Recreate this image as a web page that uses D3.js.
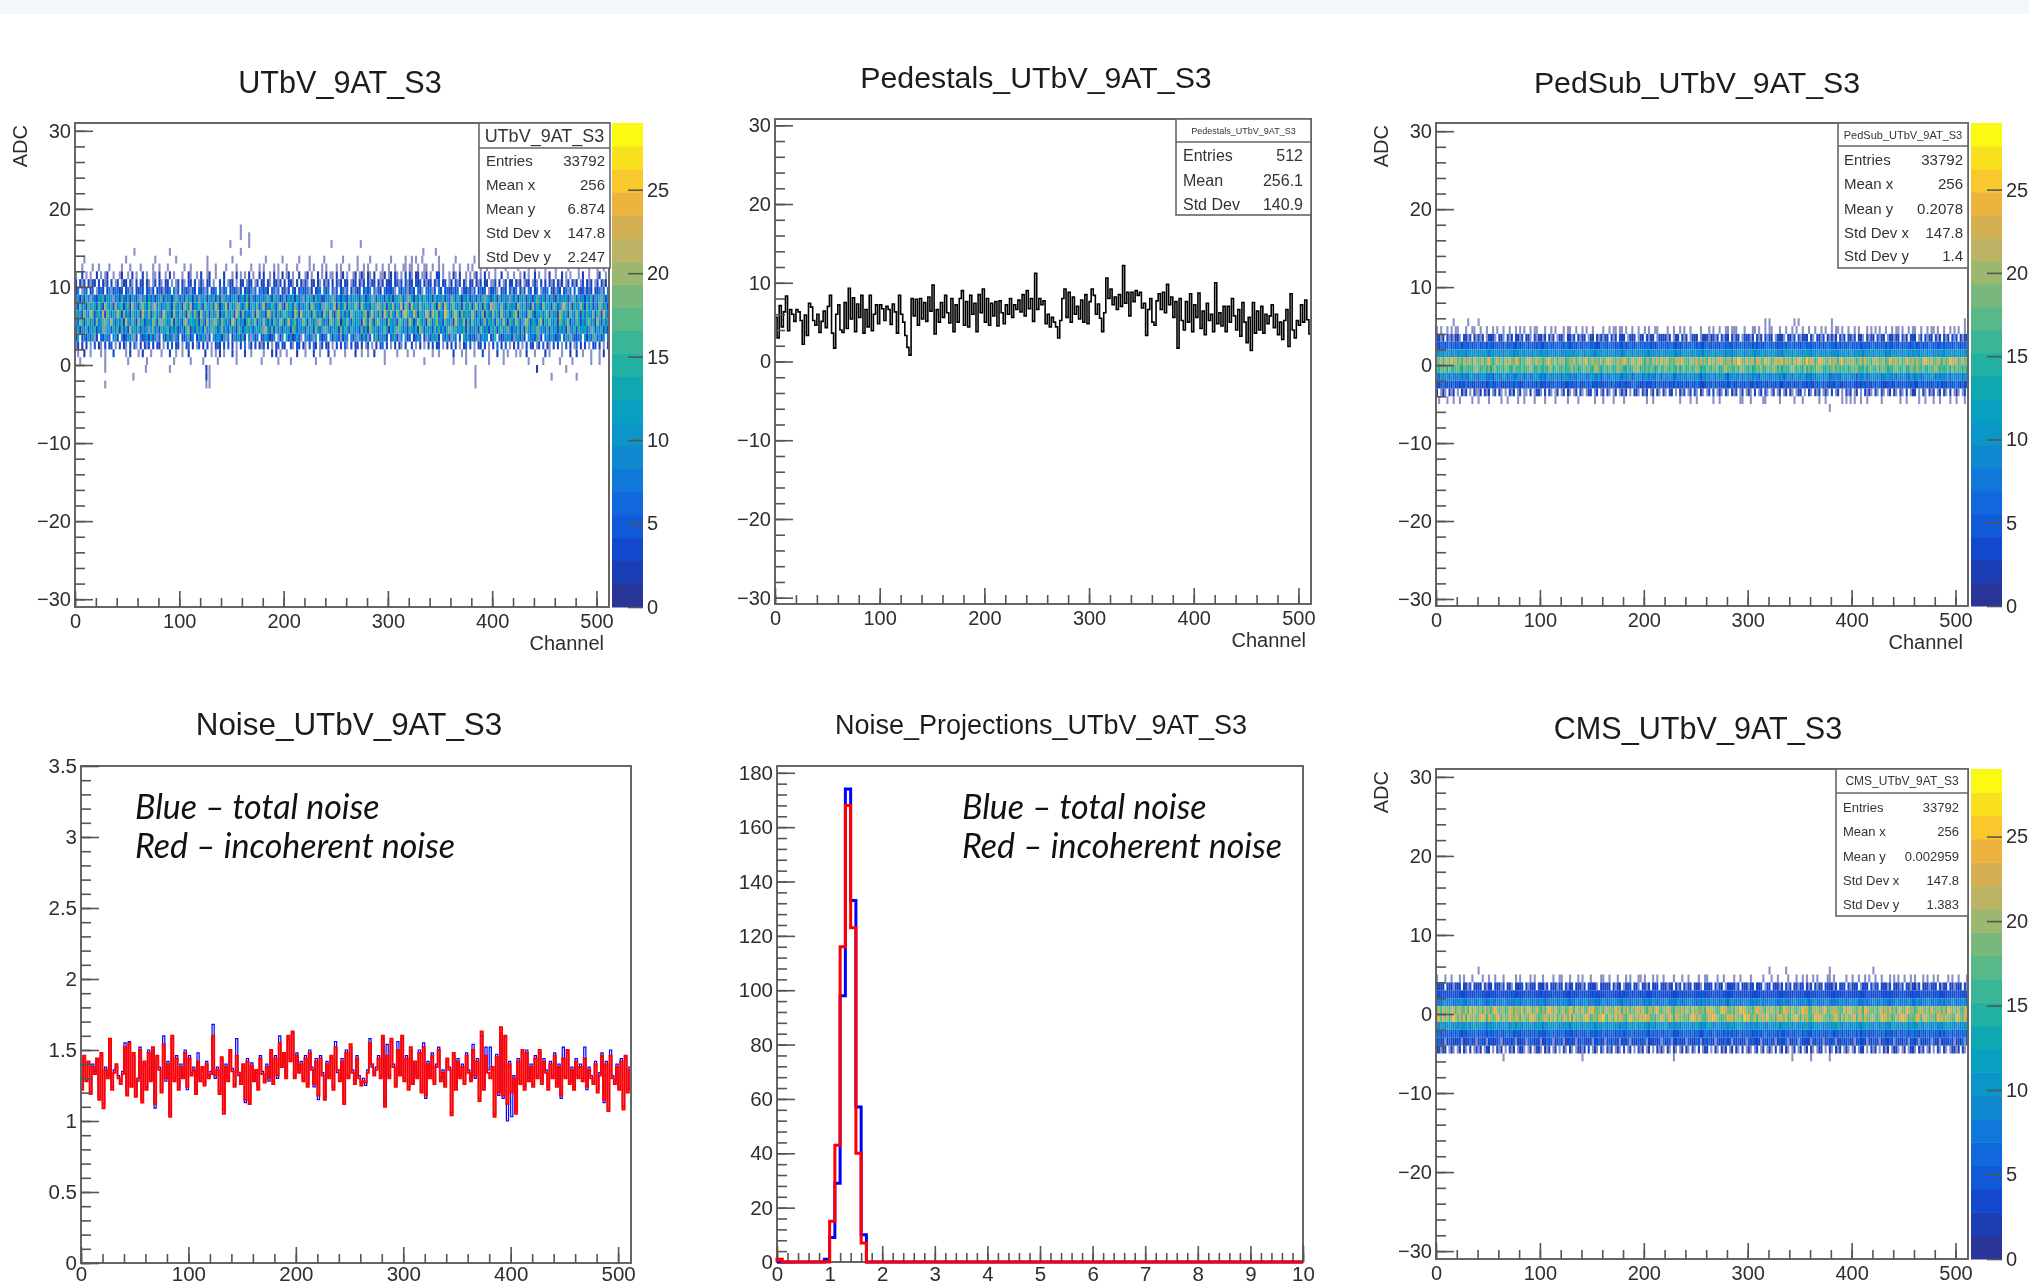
<!DOCTYPE html>
<html>
<head>
<meta charset="utf-8">
<script src="https://cdn.jsdelivr.net/npm/d3@7"></script>
<style>
html, body { margin: 0; padding: 0; background: #fff; overflow: hidden; }
svg { display: block; filter: blur(0.7px); font-family: "Liberation Sans", Arial, sans-serif; }
</style>
</head>
<body>
<script>
// values, one entry per 2 channels
var pedestals = [
5.6,3.0,7.1,4.4,6.3,8.3,3.9,6.6,6.0,5.1,6.6,6.3,5.2,2.2,5.9,3.3,
7.4,6.9,5.2,4.6,6.0,3.7,5.1,6.4,4.3,7.0,8.4,3.6,1.7,6.0,7.2,4.0,
3.7,7.5,4.2,9.3,5.4,8.1,3.8,7.3,5.6,8.4,3.6,6.6,4.4,8.4,3.9,6.0,
7.2,4.8,7.2,6.7,5.2,7.0,6.6,4.7,7.3,6.3,3.6,8.4,6.0,5.0,3.3,1.8,
0.8,8.0,5.8,7.9,4.6,8.0,5.4,7.5,5.1,8.2,6.4,9.7,3.5,6.6,5.0,7.5,
5.6,8.4,6.2,4.9,8.0,3.8,7.2,5.0,8.0,9.0,4.6,7.6,4.4,8.4,6.0,7.4,
3.8,8.5,6.2,9.2,5.0,8.0,4.6,7.4,5.8,7.6,4.5,7.7,6.2,4.8,7.2,6.0,
8.0,5.6,7.2,6.6,7.8,6.3,8.5,5.8,9.0,6.7,8.0,5.1,11.2,6.6,8.0,7.2,
7.7,4.8,6.0,4.4,5.6,5.0,4.4,3.0,5.2,8.0,9.2,5.6,8.8,5.0,8.2,6.0,
7.0,5.4,7.8,5.0,8.5,4.8,7.6,9.2,8.4,6.0,7.3,5.5,3.8,6.2,10.6,8.0,
9.2,7.2,8.2,6.6,8.5,7.0,12.2,7.4,8.8,5.8,8.8,7.6,9.0,8.4,8.8,6.8,
7.4,3.3,6.6,8.0,5.0,4.6,7.7,8.6,6.6,8.8,6.2,9.8,7.2,8.2,5.6,7.6,
1.7,8.0,5.2,4.0,7.6,5.0,8.6,3.8,7.2,5.6,8.7,4.2,6.4,3.4,7.4,5.2,
6.0,3.8,10.0,4.8,6.2,4.5,7.0,3.8,7.0,5.0,8.0,5.8,4.0,6.6,3.2,7.5,
5.0,2.4,5.6,1.4,7.5,3.6,6.4,4.0,7.0,3.6,6.0,4.8,5.8,7.2,4.3,6.0,
3.4,5.0,2.8,5.2,6.6,1.9,8.6,4.0,3.0,5.2,4.6,7.2,5.0,7.8,5.3,3.5];

var noiseRed = [
1.22,1.46,1.28,1.42,1.19,1.38,1.33,1.44,1.15,1.48,1.09,1.36,1.30,1.58,1.22,1.34,
1.40,1.30,1.26,1.33,1.52,1.18,1.55,1.24,1.48,1.17,1.30,1.50,1.13,1.42,1.22,1.48,
1.28,1.52,1.12,1.46,1.36,1.20,1.54,1.30,1.40,1.03,1.60,1.28,1.44,1.22,1.38,1.30,
1.48,1.24,1.44,1.32,1.36,1.19,1.42,1.28,1.38,1.25,1.40,1.30,1.33,1.60,1.32,1.36,
1.19,1.45,1.05,1.38,1.28,1.50,1.35,1.24,1.46,1.34,1.26,1.40,1.15,1.42,1.12,1.39,
1.28,1.36,1.22,1.44,1.33,1.27,1.38,1.30,1.50,1.26,1.44,1.32,1.55,1.38,1.48,1.30,
1.60,1.42,1.63,1.30,1.46,1.34,1.40,1.28,1.44,1.24,1.48,1.36,1.26,1.42,1.18,1.44,
1.32,1.15,1.40,1.30,1.46,1.22,1.52,1.36,1.28,1.42,1.12,1.48,1.30,1.54,1.34,1.26,
1.44,1.30,1.25,1.28,1.27,1.34,1.55,1.40,1.32,1.36,1.44,1.30,1.60,1.10,1.46,1.30,
1.58,1.38,1.24,1.50,1.32,1.60,1.28,1.44,1.22,1.52,1.26,1.42,1.30,1.48,1.20,1.52,
1.18,1.40,1.30,1.46,1.26,1.38,1.50,1.28,1.34,1.24,1.44,1.36,1.04,1.48,1.22,1.42,
1.30,1.38,1.26,1.46,1.34,1.28,1.50,1.32,1.42,1.14,1.63,1.22,1.46,1.34,1.30,1.38,
1.03,1.45,1.20,1.66,1.18,1.60,1.12,1.40,1.20,1.30,1.05,1.42,1.26,1.50,1.22,1.48,
1.28,1.38,1.24,1.44,1.30,1.50,1.26,1.42,1.34,1.22,1.40,1.30,1.46,1.24,1.38,1.18,
1.44,1.30,1.50,1.26,1.36,1.22,1.42,1.30,1.38,1.28,1.44,1.24,1.36,1.30,1.26,1.40,
1.20,1.32,1.46,1.15,1.40,1.07,1.46,1.30,1.26,1.38,1.22,1.42,1.08,1.46,1.20,1.36];

var noiseBlue = [
1.24,1.44,1.30,1.40,1.20,1.40,1.35,1.42,1.17,1.46,1.12,1.38,1.32,1.56,1.24,1.36,
1.38,1.32,1.28,1.35,1.55,1.20,1.56,1.26,1.46,1.19,1.28,1.52,1.15,1.40,1.24,1.50,
1.30,1.50,1.09,1.44,1.38,1.22,1.60,1.28,1.42,1.05,1.58,1.30,1.46,1.24,1.40,1.32,
1.50,1.22,1.46,1.34,1.38,1.21,1.48,1.30,1.36,1.27,1.42,1.32,1.35,1.68,1.30,1.38,
1.21,1.43,1.08,1.40,1.30,1.48,1.37,1.26,1.58,1.32,1.28,1.38,1.13,1.44,1.14,1.41,
1.30,1.34,1.24,1.46,1.35,1.29,1.40,1.28,1.48,1.28,1.46,1.30,1.60,1.40,1.46,1.32,
1.58,1.44,1.62,1.32,1.48,1.36,1.42,1.30,1.46,1.26,1.50,1.38,1.24,1.44,1.15,1.46,
1.34,1.17,1.42,1.32,1.44,1.24,1.56,1.34,1.30,1.44,1.14,1.50,1.32,1.52,1.36,1.28,
1.46,1.32,1.27,1.30,1.25,1.36,1.58,1.38,1.34,1.38,1.46,1.32,1.58,1.12,1.54,1.32,
1.56,1.40,1.26,1.56,1.34,1.58,1.30,1.46,1.24,1.50,1.28,1.40,1.32,1.50,1.22,1.55,
1.16,1.42,1.32,1.48,1.28,1.40,1.52,1.30,1.36,1.26,1.42,1.38,1.06,1.46,1.24,1.44,
1.32,1.40,1.28,1.48,1.36,1.30,1.54,1.30,1.44,1.16,1.60,1.24,1.52,1.36,1.52,1.36,
1.05,1.47,1.18,1.62,1.16,1.60,1.00,1.42,1.03,1.32,1.07,1.44,1.28,1.48,1.24,1.50,
1.30,1.40,1.26,1.46,1.32,1.48,1.28,1.44,1.36,1.24,1.42,1.32,1.48,1.26,1.40,1.16,
1.52,1.32,1.48,1.28,1.38,1.24,1.44,1.32,1.40,1.30,1.52,1.22,1.38,1.32,1.28,1.42,
1.22,1.34,1.48,1.13,1.42,1.09,1.50,1.32,1.28,1.40,1.24,1.44,1.10,1.44,1.22,1.38];

// noise projection, bins of 0.1 from 0, empty after the last entry
var projBlue = [0,0,0,0,0,0,0,0,0,1,9,29,98,174,133,57,10];
var projRed = [1,0,0,0,0,0,0,0,0,0,15,43,116,168,123,40,7];

// 2D histograms: one string per ADC level (base 36 count), columns of 2 channels
var rawLevels = [13,12,11,10,9,8,7,6,5,4,3,2,1,0];
var rawRows = [
"0000100000 0000000000 0000100000 0000000010 0000000010 0000000000 0001000000 0000010000 0000000000 0100000001 0000000100 0010000001 0000000010 0000010000 0100000000 0100000010 0101001000 0000100000 0010000000 0100001000 0000000000 0010000000 0000000010 0000100000 0000001000 010000",
"0001000010 0100001000 0010001000 0100000100 1000100000 0010010000 0001000100 0010000100 0000100010 1000010100 0100001000 0010100010 1000010100 0100010010 1000100100 1001000110 1100100110 0100101000 0100100010 1000100100 0100001000 0010000100 1000010000 1000001000 0100001000 100100",
"1002010100 2010120010 0120010201 0020100110 2001020100 0100210010 2001200100 0200010201 0102010020 2001020102 0120100200 1201002010 2011020120 1001201210 2102001120 1202101020 3102201120 1002301001 0210200101 0120102010 0100200100 1001020100 2010010200 1002010100 0102001000 120010",
"3041204132 0402130401 3014203102 0320410130 4102301014 0210320401 3102401003 0301420102 4013201402 3041032130 2043102021 3104202103 1402031204 2013402130 3142031204 2402514031 4205230412 3041502301 2031403102 4021302401 1302014023 0412013201 4103020412 0312014031 2014031201 403120",
"2701850360 1582047136 8250371604 2730581402 6215370815 0372815406 2815033706 1580362714 0382916058 3720581602 5130820375 4812036709 2706150381 6031724059 3807152063 5381072961 2930841075 7150930462 2837015294 1503826014 4710283061 3802150740 2801637052 1730481605 0825137204 281607",
"7c2a4e81b5 3d9f2a7c16 b3e85c2a94 d17f3c6a28 9e2b7a4d1c 5a3f8c2e71 b9d2a6c3f5 1e7a4b9d28 c5f2e83a6b 7d1c4f9a25 e3b8d2c6a1 5f9c3e7a24 b8d1e5a3c7 2f6c9a4ed3 8b1f5c7a3e 6d2a9ef4c1 gb3d8e6fa5 c2f7b9e3a6 1d5fa2c8e3 7b3d6f1ea4 9c2e5a8b1d 6f3c7e2a94 b1d8a3f5c6 2e7c9a4b1f 5d8a3c6e2b 7f1c4a",
"d4i7c2g9ea 5hb3kd8f2j 7cg4ae2lb9 3fjd6hc1k8 e5b9ga3ic7 d2jf6m4a9g b3hc8e5lf2 9dk4g7a1ib 6ej2cf8h3d l5a9gc3fk7 2ibe6jd4a8 cg3kf9b5e1 hd7al2g6cj 4fb9ie3kd7 a5gc1jf8h3 ebk6d9l4ig 3mcf7jb9ea 8hd2kg5ne6 cja7f3ib9g 4dk8e2hc6m 1gb7ja4fd9 c3ie8g5b2k 7fa4jd9c3h e6b1lf8g2d a9kc4h7e3b 5jf8d2ga6c 3ke9b7",
"f9c3jb7kg4 ae8m2hd6c9 kf3i7b4ga8 e2lc9j5dh7 b4mf8a3kc6 g9d2ie7ja4 lb6g3f8dk2 c7ha9e4mf3 j8b5cg2kd7 a4ni8f3e6c hd9b5kg2la 7fc4je8a3i d6mb2gk9f5 c3ie7da8hj 4bl9f6g2ne 8kc5jd3imf a7ng4eb9lh 2kfj6c8oia 5gme3h9db7 kf4c8j2ga6 i9d3lb7e5c gk2f8a4jh9 3dbe7ci5f8 a2kg9d4hc6 jb3e7fa8i5 dg2lc6",
"b6ie3ag8d4 j7c1hf9ka5 d8e3mb6gc2 i9f4ac7je3 h1gd8bk4f7 a3hj6dc9e2 gb4k8f1ic6 jd7a3mg5e8 b2fh9cj4d7 ka6e3gb8if 2cm7dh5a9j e4gb8f1kc6 a3ig7ej2d9 hb5f8ca4mg 6kd2eib7f3 jc9a4hg8d5 lf3bke7c2i g6dj9a4hb8 e2mf7ck3g5 ia8d4bj6e9 f3hc7ka2gd 8ie5b1jf4c a6gk3d9hb7 e2if8cj4a6 gd3b7fh9c2 ka5e8d",
"6d2a8f3b9e 4c7h1ab5d8 e2g6c3k9a7 f4b8d1ch6a 3e9bg5d7c2 8a4fj2b6e9 c3h7a1fd5b i8c4e6a2gd 5bf9d3ac7e 1kb6g4e8a3 d9c2hf5b7a 3f8e4ic6d1 ga5b9d2h7e c4fa8b3g6d 2ie7c5a9hb 4d8f1gc6a3 eb7d2if5c9 a3g8e6b4dh 1cf7a9e3g5 b8d2hc6a4f 9e3bg7d1c5 a8f4e2hb6d c1g9a5f3e7 b4d8c2ia6f 3e9bd7a1g5 c8f4b2",
"3a0582b6d1 2063a8507c 40925b7e13 0726a3c491 5082d6b1a3 0549e2703a 5c8140b6a9 3d1802a6c5 f2091b4803 6c7258013a 0d3926a510 7b4a1c0925 60e2a9513b 7083c1a4d6 1508e3b7a2 069c4170a3 5028b6031a 4c7e2095b3 1a6040d8c2 73a15c9b04 8e0625a7c3 1b94d20a67 5e1308b4c7 26a05d91c3 4870b2a6e1 5c3908",
"1302040105 0210302501 0403102061 0304150203 2010405032 0103602015 0204010362 0305020104 0701203021 4030102503 2005103402 1030620140 2301040305 1040230201 5010203604 0102041030 0301020104 0302501020 3040102605 0102304010 3060205010 2040103052 0130602104 0301050201 6020301045 020103",
"0100200100 0010100030 0000102000 1020001000 0100030010 0100200000 0020010102 0100030100 0300100000 1000202010 0100002000 1000300100 0200100001 0000200100 1002000010 0000100001 0010000000 0100100000 0200010100 0100030010 0020010100 0101002000 1000020100 0001000200 3001000100 010200",
"0010000000 0000100000 0000010000 0000100000 0000000100 0000010000 0100000010 0000000100 0000000001 0000000100 0001000000 0000010000 0010000000 0000000000 0000000010 0000000000 0000000100 0000000000 0100000100 0000000010 0000010000 0000000100 0000100000 0010000010 0000000100 010000"];
var rawOutliers = [[158,17,1],[158,16,1],[166,16,1],[166,15,1],[158,14,1],[148,15,1],[245,15,1],[273,15,1],[56,14,1],[90,14,1],[333,14,1],[345,14,1],[128,-3,1],[125,-3,1],[125,-2,2],[128,-2,1],[125,-1,2],[128,-1,1],[28,-3,1],[28,-1,1],[55,-2,1],[383,-3,1],[383,-2,1],[383,-1,1],[480,-2,1],[456,-2,1],[67,-1,1],[90,-1,1],[442,-1,2],[470,-1,1]];

var pedSubLevels = [4,3,2,1,0,-1,-2,-3,-4,-5];
var pedSubRows = [
"1010010101 1000100110 0100100101 0010010010 1010010110 0010010100 0101100100 1010010000 1001011011 0100100100 1010011000 0100100101 0010000100 0101001001 1011100010 0011010010 1100010010 0101001001 0010010100 1011010010 0101000101 0101001001 0110100101 1001001011 0100100101 010010",
"3212031412 2103214021 3120132410 2310412032 1402310213 4120312014 3102413021 2301420312 1420312043 2014230132 0314201324 3120142031 2014320142 4123120314 2031420134 3120412031 4201324103 2140312420 3102413021 3120412032 1402310214 2031420132 1420312043 2014031420 3120412031 402132",
"5465357464 5746546355 7456475365 6547456547 3657465546 5465754657 5476356475 4657465347 6547564653 7456546756 5674535746 5467546357 4657546546 7546354765 6547465746 5647465357 6475465746 5746546756 4657464576 5647465357 4657465546 7546564753 6547465546 7456354765 6457465546 754657",
"9ba8c9a7ba 8bca79ba9c 7a9cb8a9cb 7a8bc9a7b9 ca8b9a7cba 9cb8a9a7bc 8a9cba7b9c a8bc9a7ba9 cb8a9c7ba8 9bca8ba7c9 ba8c9ab7ca 8b9ca7b8ac 9ba8cb9a7c a9bc8ab9a7 cb8a9cba79 bca8b9ac7b a9cb8a7bc9 a8cb9a7cba 8b9ca7b8ca 9ba8cb9a7c b8a9c7ba9c 8ab9ca7b8c a9ba8cb7a9 cb8a9c7ba8 b9ca7ba9c8 ab9ca7",
"ijlgkmhojl hkgnjimglk hjmgkoifjl hkgmjlihon fjgkmlhjni kgjmoihlgk jmfhkingjl hkogjmikhl gjnmkihljk omgjlkhnmj fkigmjlhoj kngihmlkoj hgmkjnhlik gojmhkmnjh lkgnjpoihl jkmgnljhok mgjnklohnj kgmioljhpk nmgjolkihn jmkglohjki mjgklhnijg mklhjngiok jmhlginkjm hljgmokinh jlkgmhjolk ngjmik",
"hfigjdkefh igdjhfgeik hfgjeidhkf gheijfdkhg fieghkjdfi gehfjkdhig ejfghkeidf hjgieflkhd gjfihegkji fdhegjikfh eigjhdfkeg ihfjgekdhi fgjehkidgf jheigkdfjl higfjekihg fjdgihkfej hgkifjdhge ikjfhgdlfi ehgkjifdhe jkgifhejdg ihkfgejdhi gfkeijhdgf jihegkdfij gkhfiedjgh kifhegjdkf ighejfdkie hgkjif",
"86a79b5a87 9a7b86ca79 69ba7895ab 78ca69b87a 9b57a68ca9 796ba88b7a 5c9a7b86a9 7b68ca97a5 9b86ab7c96 a79b58a7c6 9a7b86c95a 79ba68a7b9 6c8a7b95a8 b7a96c8ba7 5a9b78c6a9 8b7a96ca7b 68a9b7c58a 96ba78ca79 6b8a9c7ba5 79a86cb7a9 8b5a79c68a b97a68bc97 a6b89a75cb 79a68b97ca 6b8a79c5a9 87b6a9",
"3456245364 5263745426 3546257345 6243546375 2456364527 3546254736 4523645374 2563745462 3546274536 5243675342 6453627453 4625374546 2365475324 6547263546 3574265436 5247354632 6454732654 3625473546 3264574632 5476325463 7425364532 6475324563 4725463546 3275463425 6374526345 743625",
"2012103120 1021301021 1203120130 2101031201 3011020132 1020310120 1302101203 1012301201 2031012013 1201032103 1201302102 1032010213 0120310210 1302012103 1021301201 2103012031 0120130120 2101230102 1031201210 3012010312 0120103121 0210310120 2103102012 3010210312 0120310201 210130",
"0100010010 0100000100 1000010000 0100100001 0010000100 0010000100 0001000010 0000001000 1000010000 1000000000 0100100000 0000000100 0010010000 0001001000 0000001100 0100000110 0000010000 0010001000 0000100100 0000010101 0100100100 0000100000 0001001000 0010010001 0010000100 100010"];
var pedSubOutliers = [[40,5,1],[316,5,1],[320,5,1],[344,5,1],[348,5,1],[380,5,1],[508,5,1],[16,5,1],[378,-6,1],[30,5,1]];

var cmsLevels = [4,3,2,1,0,-1,-2,-3,-4,-5];
var cmsRows = [
"1000100100 0101000100 0010010010 0010000010 1000010100 0100001001 1000100010 1000100001 1001000100 0101000110 1000101001 0000100010 0100001001 1000010010 0001001000 0100000100 0100100001 0001001010 0101000011 0100000100 1001001010 0100100010 1010010010 1000101001 0100001010 010001",
"4342034213 4302413042 4203142043 4130241032 3403132404 3214034213 4031430242 1403243102 4342031420 1343024103 4130243042 3142041302 1430423104 3240314201 3423140342 1340243014 3042314041 3024143021 4031420343 2140343041 3240134204 1340243140 3241304314 2140324134 2031420341 324031",
"3435433453 5344354345 4534345344 5343453534 3345345344 4534435343 5344353445 3453435344 4453534345 3445345343 5344535344 3453434534 4345343553 4345344534 3435534434 5344345353 4435344534 3453445343 5344535344 3453434534 4345434553 3445344534 4345353443 5345344353 4534435343 534435",
"7869a78968 79a8697a86 9a7867a869 78a96778a9 6897a86978 a967897a68 97a8678a96 79a6897867 a9687a9786 a7968978a7 6987a96878 a96787a968 79a87697a8 96a78967a8 69a78968a7 967a89a678 97a8679a86 78a9678a96 79a8678a97 6897a8967a 89a6789678 a967a89768 7a96878a96 7a8697a968 978a6987a9 687a96",
"jlgmikhlng kmjhlgoilk hmgnjkgmol hjkginmhlk jogkmlhinj gkhmoljnig kmhjolgnkh mjgnloihjk gmljihokng mjlgkhnmjo igklhmojgk jnlhgmkinh lkgojmhikg nlmkjghonl jhkgmionlk hjgmolkjgn imkhlgjonk hmigkjolnh gmkljhnogi kmljhgoimn kjhlmgonij hkglmjnioh kglnjhomik gjlmkhngoi jkmhlgonik jmhgln",
"lohnjmgkpl hmjognkilh jmolgnkhjn lgmihokjnl gmkjhonljg ikmlhnjogk hmljognikh jmolgikhnl pjgmkhoinl jgkomhljnk omlhjgkinm hjolgnmjkh iglonjmkhg jnlomkhgji olnhmjkgpl ohjngmkljo ihkgmnljog hkmojgnilh gjolnmkhig jlokgmhnij kogmlhnjik mhgjolnikg hmjlonkgih jolgmnkhij gomnjlkihg omjhnl",
"b9ca8bca9b 7cb9ac8bda 9cba7c9bac 8b9ca8bd9c a8cb9ac7ba c8b9ca9cb8 a9bc8ad9cb 7ca9bc8ba9 cb8acb9a7c b8ac9bd8ac 9b7ca8bc9a db8c9ab7ca 9bc8acb9a8 dca79bc8ab 9ca8bdc9b7 a8cb9acb87 ca9bd8acb9 a7cb8a9cdb 8ac9bc7a8b 9cbda8c9b7 ac9b8cad9b 7ca8bc9a8d cb9a7cb8ac 9bda8cb97a c8b9cad9b8 ac7b9c",
"5646556465 7546465657 4656475564 6546757465 4656546474 6546575645 6746546465 5467465564 7546564657 4565746465 6547564654 6576454657 5647465457 6546745646 5746457465 6546564675 4656475464 6546574665 4756465457 6465746546 5647465745 4656574654 6475465467 5646547465 5647465746 546574",
"2634126342 3512436241 2634135243 6124352614 2341635243 1426351246 3124534124 6342513462 4135264314 5261342543 6124352416 3451426342 1534264135 2643152436 2514362431 5264231452 6341254361 4253164243 1526341254 3614253462 4136243152 6431254263 1543264135 2613425316 4213543621 342615",
"2312301210 1203102013 1201320103 1201031201 2310120132 1021301201 0310210132 1203012103 1031201210 3012010312 0120103121 0210310120 2103102012 3010210312 0120310201 2101301201 2103012031 0120130120 2101230102 1031201210 1201320103 1201031201 2310120132 1021301201 0310210132 120310",
"0000100100 0010000100 1000010001 0100001010 1001000100 0100010001 0010001000 0100100010 0001010000 0001001000 1000011010 0100000101 0010010000 1000100001 0010000101 0100100000 1000011000 0100100000 0010001000 0100100001 0100010000 0010100000 1000010001 0100001000 0010100100 010010"];
var cmsOutliers = [[40,5,1],[320,5,1],[336,5,1],[378,5,1],[420,5,1],[378,-6,1],[64,-6,1],[140,-6,1],[228,-6,1],[342,-6,1],[360,-6,1],[336,-5,1]];

// tick labels and stat boxes
var statLabels2D = ["Entries", "Mean x", "Mean y", "Std Dev x", "Std Dev y"];
var statLabels1D = ["Entries", "Mean", "Std Dev"];
var rawStats = ["33792", "256", "6.874", "147.8", "2.247"];
var pedestalStats = ["512", "256.1", "140.9"];
var pedSubStats = ["33792", "256", "0.2078", "147.8", "1.4"];
var cmsStats = ["33792", "256", "0.002959", "147.8", "1.383"];
var noteLines = ["Blue \u2013 total noise", "Red \u2013 incoherent noise"];

// colour bands of the palette, bottom to top
var birdColors = ["#2a3598","#1c3eb4","#1448cc","#105ad8","#1068dc","#1078d8","#1088d0","#0a96c8","#08a0c0","#10a8b0","#22b0a2","#3ab696","#58b888","#78b87c","#9cb870","#bcb464","#d4b052","#ecb43e","#f8c82c","#f9e01e","#fcfa12"];

var channels = d3.range(0, 512, 2);
var adcMajor = d3.range(-30, 31, 10);
var adcMinor = d3.range(-30, 31, 2);
var chMajor = d3.range(0, 501, 100);
var chMinor = d3.range(0, 512, 20);
var zTicks = [0, 5, 10, 15, 20, 25];

var svg = d3.select("body").append("svg").attr("width", 2029).attr("height", 1285);
svg.append("rect").attr("width", 2029).attr("height", 1285).attr("fill", "#fff");
svg.append("rect").attr("width", 2029).attr("height", 14).attr("fill", "#f3f7fa");

var clipN = 0;

// frame, ticks and title for one pad
function makePad(o) {
  var g = svg.append("g");
  var x = d3.scaleLinear().domain(o.xDomain).range([o.left, o.right]);
  var y = d3.scaleLinear().domain(o.yDomain).range([o.bottom, o.top]);
  var id = "clip" + (clipN++);
  svg.append("clipPath").attr("id", id).append("rect")
    .attr("x", o.left).attr("y", o.top)
    .attr("width", o.right - o.left).attr("height", o.bottom - o.top);
  var plot = g.append("g").attr("clip-path", "url(#" + id + ")");

  g.append("text").attr("x", o.titleX).attr("y", o.titleY)
    .attr("text-anchor", "middle").attr("dominant-baseline", "central")
    .attr("font-size", o.titleSize).attr("fill", "#1c1c1c").text(o.title);

  return { g: g, plot: plot, x: x, y: y, o: o };
}

function finishPad(p) {
  var o = p.o, g = p.g;
  var xPad = o.xPad === undefined ? 7 : o.xPad;
  g.append("rect").attr("x", o.left).attr("y", o.top)
    .attr("width", o.right - o.left).attr("height", o.bottom - o.top)
    .attr("fill", "none").attr("stroke", "#666").attr("stroke-width", 2);

  var xa = g.append("g").attr("transform", "translate(0," + o.bottom + ")");
  xa.append("g").call(d3.axisBottom(p.x).tickValues(o.xMinor).tickSize(-9).tickFormat(""));
  xa.append("g").call(d3.axisBottom(p.x).tickValues(o.xMajor).tickSize(-16).tickPadding(xPad).tickFormat(d3.format("~g")));
  var ya = g.append("g").attr("transform", "translate(" + o.left + ",0)");
  ya.append("g").call(d3.axisLeft(p.y).tickValues(o.yMinor).tickSize(-10).tickFormat(""));
  ya.append("g").call(d3.axisLeft(p.y).tickValues(o.yMajor).tickSize(-18).tickPadding(4).tickFormat(d3.format("~g")));
  g.selectAll(".domain").remove();
  g.selectAll(".tick line").attr("stroke", "#555").attr("stroke-width", 1.6);
  g.selectAll(".tick text").attr("font-size", o.tickSize || 20).attr("fill", "#2e2e2e")
    .attr("font-family", "Liberation Sans");

  if (o.xLabel) {
    g.append("text").attr("x", o.right - 5).attr("y", o.bottom + 43)
      .attr("text-anchor", "end").attr("font-size", 20).attr("fill", "#2e2e2e").text(o.xLabel);
  }
  if (o.yLabel) {
    g.append("text").attr("transform", "translate(" + (o.left - 55) + "," + (o.top + 2) + ") rotate(-90)")
      .attr("text-anchor", "end").attr("dominant-baseline", "central")
      .attr("font-size", 20).attr("fill", "#2e2e2e").text(o.yLabel);
  }
}

function drawHeat(p, levels, rows, outliers) {
  var z = d3.scaleQuantize().domain([0, 29]).range(birdColors);
  var cells = [];
  rows.forEach(function (row, r) {
    row.replace(/ /g, "").split("").forEach(function (c, i) {
      var n = parseInt(c, 36);
      if (n > 0 && i < channels.length) cells.push({ ch: channels[i], level: levels[r], n: n });
    });
  });
  outliers.forEach(function (d) { cells.push({ ch: d[0], level: d[1], n: d[2] }); });

  p.plot.selectAll("rect.cell").data(cells).join("rect").attr("class", "cell")
    .attr("x", function (d) { return p.x(d.ch); })
    .attr("y", function (d) { return p.y(d.level + 1); })
    .attr("width", function (d) { return p.x(d.ch + 2) - p.x(d.ch); })
    .attr("height", function (d) { return p.y(d.level) - p.y(d.level + 1); })
    .attr("fill", function (d) { return z(d.n); })
    .attr("fill-opacity", function (d) { return d.n === 1 ? 0.55 : 1; });
}

function drawPalette(p, left, right) {
  var o = p.o;
  var z = d3.scaleLinear().domain([0, 29]).range([o.bottom, o.top]);
  var step = 29 / birdColors.length;
  var g = p.g.append("g");
  g.selectAll("rect").data(birdColors).join("rect")
    .attr("x", left).attr("width", right - left)
    .attr("y", function (d, i) { return z((i + 1) * step); })
    .attr("height", function (d, i) { return z(i * step) - z((i + 1) * step) + 0.5; })
    .attr("fill", function (d) { return d; });
  var a = g.append("g").attr("transform", "translate(" + right + ",0)")
    .call(d3.axisRight(z).tickValues(zTicks).tickSize(-15).tickPadding(4));
  a.select(".domain").remove();
  a.selectAll("line").attr("stroke", "#333").attr("stroke-width", 1.6);
  a.selectAll("text").attr("font-size", 20).attr("fill", "#2e2e2e").attr("font-family", "Liberation Sans");
}

function drawStats(p, b, title, labels, values) {
  var g = p.g.append("g");
  g.append("rect").attr("x", b.x0).attr("y", b.y0)
    .attr("width", b.x1 - b.x0).attr("height", b.y1 - b.y0)
    .attr("fill", "#fff").attr("stroke", "#666").attr("stroke-width", 1.6);
  g.append("line").attr("x1", b.x0).attr("x2", b.x1).attr("y1", b.div).attr("y2", b.div)
    .attr("stroke", "#666").attr("stroke-width", 1.6);
  g.append("text").attr("x", (b.x0 + b.x1) / 2).attr("y", (b.y0 + b.div) / 2)
    .attr("text-anchor", "middle").attr("dominant-baseline", "central")
    .attr("font-size", b.titleSize).attr("fill", "#333").text(title);
  labels.forEach(function (t, i) {
    var yy = b.rows[i];
    g.append("text").attr("x", b.tx0).attr("y", yy).attr("dominant-baseline", "central")
      .attr("font-size", b.size).attr("fill", "#333").text(t);
    g.append("text").attr("x", b.tx1).attr("y", yy).attr("dominant-baseline", "central")
      .attr("text-anchor", "end").attr("font-size", b.size).attr("fill", "#333").text(values[i]);
  });
}

// step outline of a histogram with constant bin width
function stepPath(x, y, edges, values, width, base) {
  var s = "M" + x(edges[0]) + "," + y(base);
  values.forEach(function (v, i) {
    s += "L" + x(edges[i]) + "," + y(v) + "L" + x(edges[i] + width) + "," + y(v);
  });
  return s;
}

function drawNote(p, xx, y1, y2) {
  noteLines.forEach(function (t, i) {
    p.g.append("text").attr("x", xx).attr("y", i ? y2 : y1).attr("dominant-baseline", "central")
      .attr("font-family", "Lato").attr("font-style", "italic").attr("font-size", 34)
      .attr("fill", "#111").text(t);
  });
}

// top left: raw ADC
var p1 = makePad({
  left: 75, right: 609, top: 123, bottom: 607, xDomain: [0, 512], yDomain: [-31, 31],
  title: "UTbV_9AT_S3", titleX: 340, titleY: 82, titleSize: 30.6,
  xMajor: chMajor, xMinor: chMinor, yMajor: adcMajor, yMinor: adcMinor, xLabel: "Channel", yLabel: "ADC"
});
drawHeat(p1, rawLevels, rawRows, rawOutliers);
drawPalette(p1, 612, 643);
finishPad(p1);
drawStats(p1, { x0: 479, x1: 610, y0: 123, y1: 268, div: 148, titleSize: 18, size: 15, tx0: 486, tx1: 605, rows: [160, 184, 208, 232, 256] },
  "UTbV_9AT_S3", statLabels2D, rawStats);

// top middle: pedestals
var p2 = makePad({
  left: 775, right: 1311, top: 119, bottom: 604, xDomain: [0, 512], yDomain: [-30.8, 30.8],
  title: "Pedestals_UTbV_9AT_S3", titleX: 1036, titleY: 77, titleSize: 30.3,
  xMajor: chMajor, xMinor: chMinor, yMajor: adcMajor, yMinor: adcMinor, xLabel: "Channel"
});
p2.plot.append("path")
  .attr("d", stepPath(p2.x, p2.y, channels, pedestals, 2, pedestals[0]))
  .attr("fill", "none").attr("stroke", "#000").attr("stroke-width", 1.6);
finishPad(p2);
drawStats(p2, { x0: 1176, x1: 1311, y0: 119, y1: 215, div: 142, titleSize: 9, size: 16, tx0: 1183, tx1: 1303, rows: [155, 180, 204] },
  "Pedestals_UTbV_9AT_S3", statLabels1D, pedestalStats);

// top right: pedestal subtracted
var p3 = makePad({
  left: 1436, right: 1968, top: 123, bottom: 606, xDomain: [0, 512], yDomain: [-30.9, 31.05],
  title: "PedSub_UTbV_9AT_S3", titleX: 1697, titleY: 82, titleSize: 30.3,
  xMajor: chMajor, xMinor: chMinor, yMajor: adcMajor, yMinor: adcMinor, xLabel: "Channel", yLabel: "ADC"
});
drawHeat(p3, pedSubLevels, pedSubRows, pedSubOutliers);
drawPalette(p3, 1971, 2002);
finishPad(p3);
drawStats(p3, { x0: 1838, x1: 1968, y0: 123, y1: 268, div: 146, titleSize: 11, size: 15, tx0: 1844, tx1: 1963, rows: [159, 183, 208, 232, 255] },
  "PedSub_UTbV_9AT_S3", statLabels2D, pedSubStats);

// bottom left: noise per channel
var p4 = makePad({
  left: 81, right: 631, top: 766, bottom: 1263, xDomain: [0, 512], yDomain: [0, 3.5],
  title: "Noise_UTbV_9AT_S3", titleX: 349, titleY: 724, titleSize: 31.4, tickSize: 20.5, xPad: 3.5,
  xMajor: chMajor, xMinor: chMinor, yMajor: d3.range(0, 3.6, 0.5), yMinor: d3.range(0, 3.5, 0.1)
});
p4.plot.append("path")
  .attr("d", stepPath(p4.x, p4.y, channels, noiseBlue, 2, noiseBlue[0]))
  .attr("fill", "none").attr("stroke", "#0000ff").attr("stroke-width", 1.2);
p4.plot.append("path")
  .attr("d", stepPath(p4.x, p4.y, channels, noiseRed, 2, noiseRed[0]))
  .attr("fill", "none").attr("stroke", "#ff0000").attr("stroke-width", 1.9);
finishPad(p4);
drawNote(p4, 135, 805, 844);

// bottom middle: noise projections
var p5 = makePad({
  left: 777, right: 1303, top: 766, bottom: 1262, xDomain: [0, 10], yDomain: [0, 182.5],
  title: "Noise_Projections_UTbV_9AT_S3", titleX: 1041, titleY: 725, titleSize: 27, tickSize: 20.5, xPad: 4,
  xMajor: d3.range(0, 11), xMinor: d3.range(0, 10.01, 0.2), yMajor: d3.range(0, 181, 20), yMinor: d3.range(0, 181, 4)
});
var projEdges = d3.range(100).map(function (i) { return i / 10; });
function projValues(a) { return projEdges.map(function (e, i) { return a[i] || 0; }); }
finishPad(p5);
var projG = p5.g.append("g");
projG.append("path").attr("d", stepPath(p5.x, p5.y, projEdges, projValues(projBlue), 0.1, 0))
  .attr("fill", "none").attr("stroke", "#0000ff").attr("stroke-width", 3);
projG.append("path").attr("d", stepPath(p5.x, p5.y, projEdges, projValues(projRed), 0.1, 0))
  .attr("fill", "none").attr("stroke", "#ff0000").attr("stroke-width", 3);
drawNote(p5, 962, 805, 844);

// bottom right: common mode subtracted
var p6 = makePad({
  left: 1436, right: 1968, top: 769, bottom: 1259, xDomain: [0, 512], yDomain: [-31, 31],
  title: "CMS_UTbV_9AT_S3", titleX: 1698, titleY: 728, titleSize: 30.6,
  xMajor: chMajor, xMinor: chMinor, yMajor: adcMajor, yMinor: adcMinor, yLabel: "ADC"
});
drawHeat(p6, cmsLevels, cmsRows, cmsOutliers);
drawPalette(p6, 1971, 2002);
finishPad(p6);
drawStats(p6, { x0: 1836, x1: 1968, y0: 769, y1: 916, div: 793, titleSize: 12, size: 13, tx0: 1843, tx1: 1959, rows: [807, 831, 856, 880, 904] },
  "CMS_UTbV_9AT_S3", statLabels2D, cmsStats);
</script>
</body>
</html>
